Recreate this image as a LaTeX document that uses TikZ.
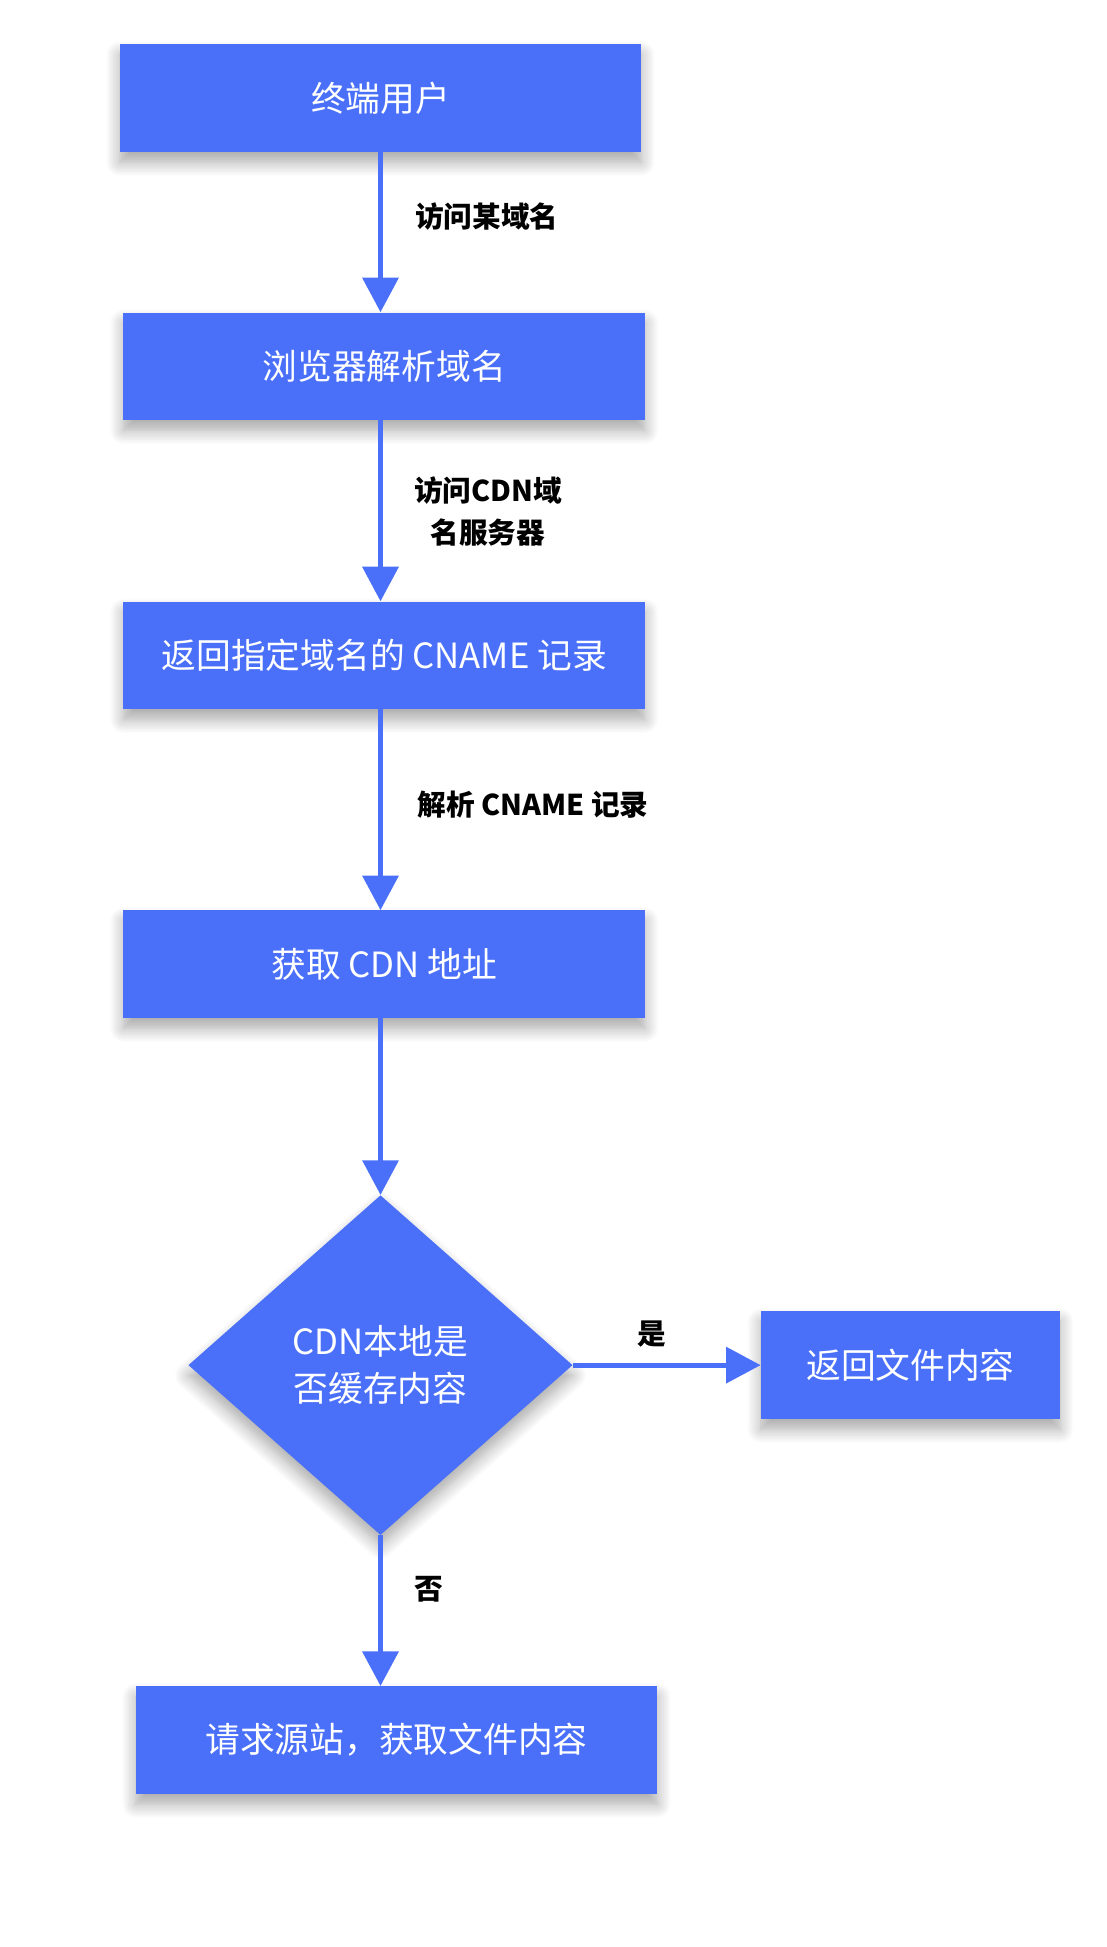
\documentclass[tikz,border=0pt]{standalone}
\usepackage{fontspec}
\setmainfont{Noto Sans CJK SC}
\usetikzlibrary{arrows.meta,shapes.geometric,shadows.blur}
\definecolor{cdnblue}{RGB}{74,112,250}

\begin{document}
\begin{tikzpicture}[x=0.025cm,y=-0.025cm,
  procbox/.style={fill=cdnblue,text=white,minimum width=10.55cm,
    minimum height=2.175cm,inner sep=0pt,font=\fontsize{20}{24}\selectfont,
    blur shadow={shadow xshift=0pt,shadow yshift=-6pt,shadow blur steps=10,
    shadow opacity=35,shadow blur radius=8pt}},
  decbox/.style={diamond,aspect=1.13,fill=cdnblue,text=white,
    minimum width=7.775cm,minimum height=6.875cm,inner sep=0pt,align=center,
    font=\fontsize{20}{27}\selectfont,
    blur shadow={shadow xshift=0pt,shadow yshift=-6pt,shadow blur steps=10,
    shadow opacity=35,shadow blur radius=8pt}},
  flow/.style={draw=cdnblue,line width=2.8pt,-{Triangle[length=0.7cm,width=0.72cm]}},
  labelsty/.style={font=\bfseries\fontsize{16.5}{24}\selectfont,align=center}]

  \useasboundingbox (0,0) rectangle (896,1576);

  \node[procbox] (user) at (308,79.5) {终端用户};
  \node[procbox] (browser) at (311,296.5) {浏览器解析域名};
  \node[procbox] (cname) at (311,530.5) {返回指定域名的 CNAME 记录};
  \node[procbox] (cdn) at (311,780.5) {获取 CDN 地址};
  \node[decbox] (cache) at (308,1105) {CDN本地是\\否缓存内容};
  \node[procbox,minimum width=6.05cm] (hit) at (737,1105) {返回文件内容};
  \node[procbox] (origin) at (321,1408.5) {请求源站，获取文件内容};

  \draw[flow] (user.south) -- (user.south |- browser.north);
  \draw[flow] (user.south |- browser.south) -- (user.south |- cname.north);
  \draw[flow] (user.south |- cname.south) -- (user.south |- cdn.north);
  \draw[flow] (user.south |- cdn.south) -- (cache.north);
  \draw[flow] (cache.east) -- (cache.east -| hit.west);
  \draw[flow] (cache.south) -- (cache.south |- origin.north);

  \node[labelsty,anchor=west] (l1) at (331,175) {访问某域名};
  \node[labelsty] (l2) at (395,414) {访问CDN域\\名服务器};
  \node[labelsty,anchor=west] (l3) at (333,651) {解析 CNAME 记录};
  \node[labelsty] (yes) at (528,1080) {是};
  \node[labelsty] (no) at (347,1286) {否};

\end{tikzpicture}
\end{document}
